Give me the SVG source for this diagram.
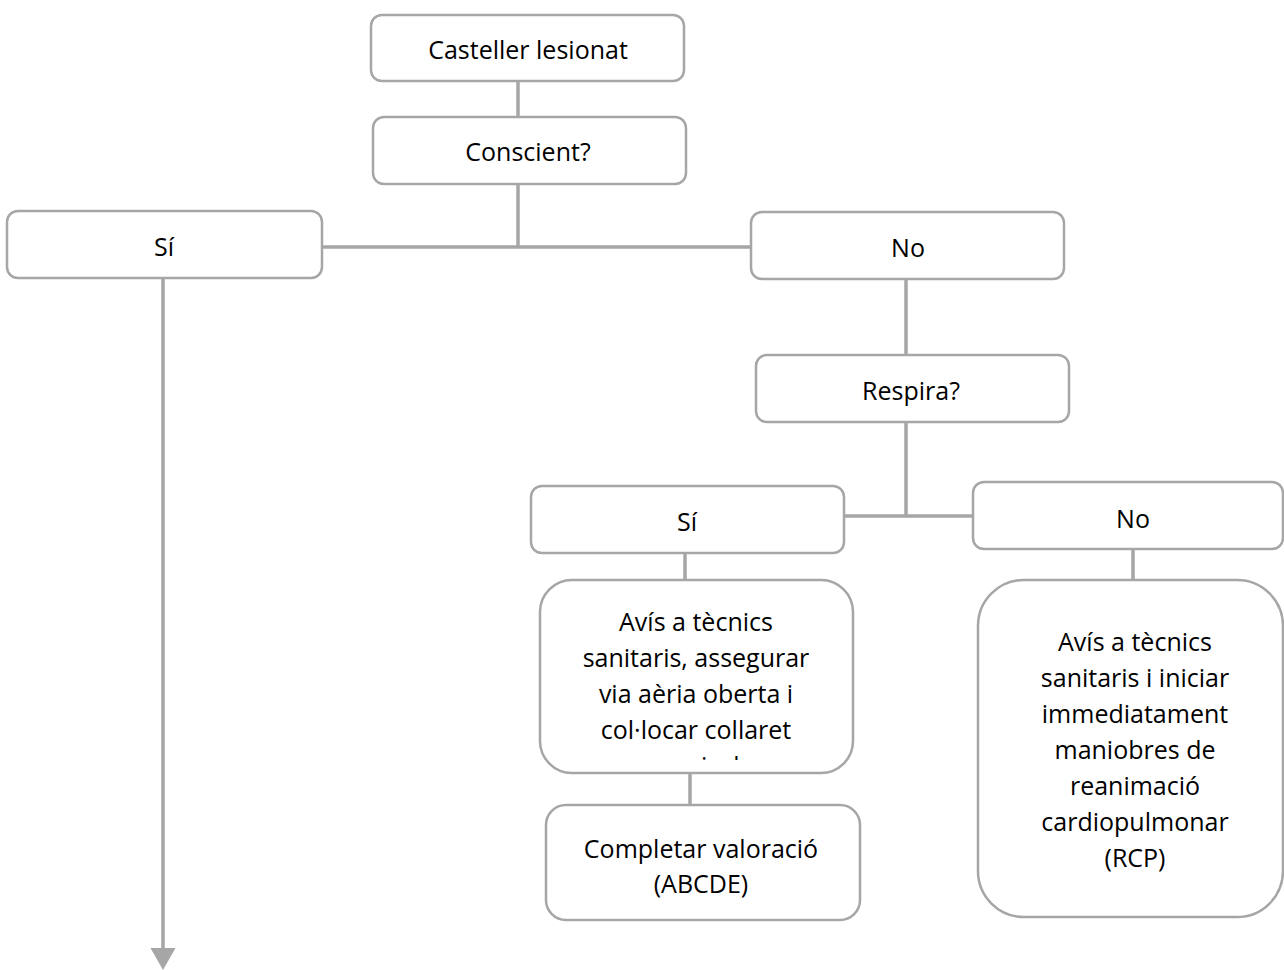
<svg xmlns="http://www.w3.org/2000/svg" width="1284" height="970" viewBox="0 0 1284 970">
<style>
.box{fill:#ffffff;stroke:#a6a6a6;stroke-width:2.5}
.ln{stroke:#a6a6a6;stroke-width:3.5;fill:none}
.t{font-family:"Open Sans","Liberation Sans",sans-serif;font-size:25px;fill:#000000;text-anchor:middle}
</style>
<defs>
<clipPath id="clipA"><rect x="540" y="580" width="314" height="180"/></clipPath>
</defs>
<g id="connectors">
<line class="ln" x1="518" y1="81" x2="518" y2="117"/>
<line class="ln" x1="518" y1="184" x2="518" y2="247"/>
<line class="ln" x1="322" y1="247" x2="752" y2="247"/>
<line class="ln" x1="163" y1="278" x2="163" y2="948"/>
<path d="M150.5,948 L175.5,948 L163,970 Z" fill="#a6a6a6"/>
<line class="ln" x1="906" y1="279" x2="906" y2="355"/>
<line class="ln" x1="906" y1="422" x2="906" y2="516"/>
<line class="ln" x1="844" y1="516" x2="973" y2="516"/>
<line class="ln" x1="685" y1="553" x2="685" y2="580"/>
<line class="ln" x1="690" y1="773" x2="690" y2="805"/>
<line class="ln" x1="1133" y1="549" x2="1133" y2="580"/>
</g>
<g id="n-casteller">
<rect class="box" x="371" y="15" width="313" height="66" rx="11"/>
<text class="t" x="528" y="59">Casteller lesionat</text>
</g>
<g id="n-conscient">
<rect class="box" x="373" y="117" width="313" height="67" rx="11"/>
<text class="t" x="528" y="161">Conscient?</text>
</g>
<g id="n-si1">
<rect class="box" x="7" y="211" width="315" height="67" rx="11"/>
<text class="t" x="164" y="256">Sí</text>
</g>
<g id="n-no1">
<rect class="box" x="751" y="212" width="313" height="67" rx="11"/>
<text class="t" x="908" y="257">No</text>
</g>
<g id="n-respira">
<rect class="box" x="756" y="355" width="313" height="67" rx="11"/>
<text class="t" x="911" y="400">Respira?</text>
</g>
<g id="n-si2">
<rect class="box" x="531" y="486" width="313" height="67" rx="11"/>
<text class="t" x="687" y="531">Sí</text>
</g>
<g id="n-no2">
<rect class="box" x="973" y="482" width="310" height="67" rx="11"/>
<text class="t" x="1133" y="528">No</text>
</g>
<g id="n-avis1">
<rect class="box" x="540" y="580" width="313" height="193" rx="32"/>
<g clip-path="url(#clipA)">
<text class="t" x="696" y="631">Avís a tècnics</text>
<text class="t" x="696" y="667">sanitaris, assegurar</text>
<text class="t" x="696" y="703">via aèria oberta i</text>
<text class="t" x="696" y="739">col·locar collaret</text>
<text class="t" x="696" y="775">cervical</text>
</g>
</g>
<g id="n-completar">
<rect class="box" x="546" y="805" width="314" height="115" rx="20"/>
<text class="t" x="701" y="858">Completar valoració</text>
<text class="t" x="701" y="893">(ABCDE)</text>
</g>
<g id="n-avis2">
<rect class="box" x="978" y="580" width="305" height="337" rx="46"/>
<text class="t" x="1135" y="651">Avís a tècnics</text>
<text class="t" x="1135" y="687">sanitaris i iniciar</text>
<text class="t" x="1135" y="723">immediatament</text>
<text class="t" x="1135" y="759">maniobres de</text>
<text class="t" x="1135" y="795">reanimació</text>
<text class="t" x="1135" y="831">cardiopulmonar</text>
<text class="t" x="1135" y="867">(RCP)</text>
</g>
</svg>
